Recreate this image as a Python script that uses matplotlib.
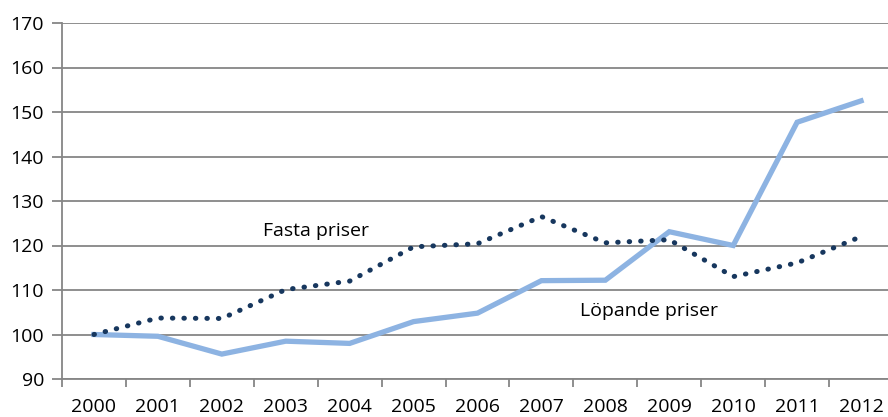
import matplotlib.pyplot as plt

plt.rcParams['font.family'] = ['Open Sans', 'DejaVu Sans']

years = ['2000', '2001', '2002', '2003', '2004', '2005', '2006',
         '2007', '2008', '2009', '2010', '2011', '2012']
lopande = [100, 99.6, 95.6, 98.5, 98.0, 102.9, 104.8, 112.1, 112.2, 123.1, 120.0, 147.7, 152.5]
fasta = [100, 103.7, 103.6, 110.1, 112.0, 119.7, 120.4, 126.5, 120.6, 121.3, 113.0, 116.1, 122.0]

fig = plt.figure(figsize=(8.88, 4.17), dpi=100)
ax = fig.add_axes([62 / 888, 1 - 379 / 417, 831 / 888, (379 - 23) / 417])

x = list(range(len(years)))
ax.plot(x, lopande, color='#8DB3E2', lw=3.8, solid_joinstyle='miter', zorder=3)
# round dots, about 11.5 px apart
ax.plot(x, fasta, color='#17375E', lw=3.6, linestyle=(0, (0.1, 2.2)),
        dash_capstyle='round', zorder=4)

fs = 14
ax.text(2.65, 123.3, 'Fasta priser', fontsize=fs, va='center', ha='left')
ax.text(7.6, 105.3, 'Löpande priser', fontsize=fs, va='center', ha='left')

ax.set_xlim(-0.5, len(years) - 0.5)
ax.set_ylim(90, 170)
ax.set_yticks(range(90, 171, 10))
ax.yaxis.grid(True, color='#868686', lw=1.3)
ax.set_axisbelow(True)

# category ticks sit between the years, labels centred under each year
ax.set_xticks([i - 0.5 for i in range(len(years) + 1)])
ax.set_xticklabels([])
ax.set_xticks(x, minor=True)
ax.set_xticklabels(years, minor=True, fontsize=fs)
ax.tick_params(axis='x', which='minor', length=0, pad=14)
ax.tick_params(axis='x', which='major', length=6, width=1.3, color='#868686')
ax.tick_params(axis='y', length=7, width=1.3, color='#868686', labelsize=fs, pad=6)

for s in ['top', 'right']:
    ax.spines[s].set_visible(False)
for s in ['left', 'bottom']:
    ax.spines[s].set_color('#868686')
    ax.spines[s].set_linewidth(1.3)

fig.savefig('out.png', dpi=100)
